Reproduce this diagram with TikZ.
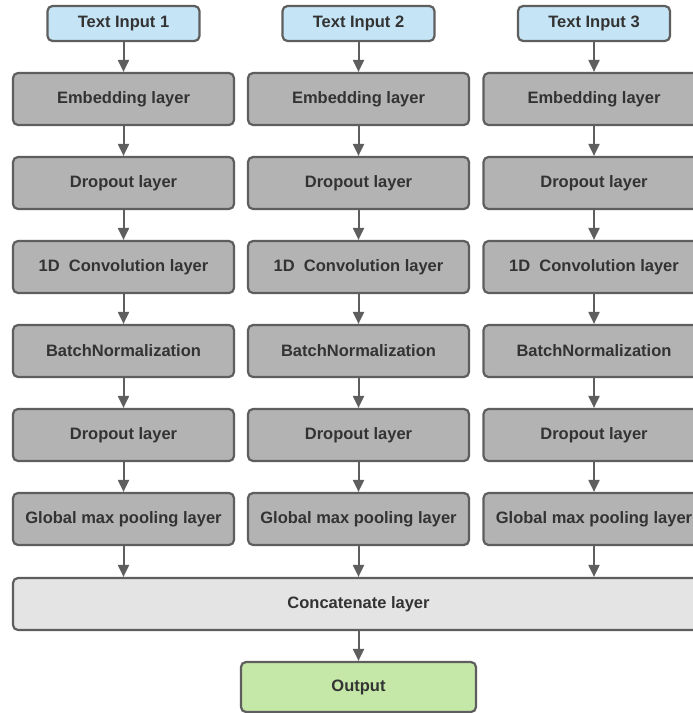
\documentclass[tikz,border=0pt]{standalone}
\usepackage{fontspec}
\setmainfont{Liberation Sans}
\usetikzlibrary{arrows.meta}
\definecolor{edgegray}{HTML}{5E5E5E}
\definecolor{txtgray}{HTML}{333333}
\definecolor{layergray}{HTML}{B3B3B3}
\definecolor{inblue}{HTML}{C5E4F5}
\definecolor{concatgray}{HTML}{E4E4E4}
\definecolor{outgreen}{HTML}{C5E8A8}
\tikzset{
  box/.style={draw=edgegray, line width=2.2pt, rounded corners=5pt, text=txtgray,
    font=\fontsize{16.5}{18}\selectfont\bfseries, inner sep=0pt, anchor=center},
  inbox/.style={box, fill=inblue, minimum width=152pt, minimum height=35pt},
  layerbox/.style={box, fill=layergray, minimum width=221pt, minimum height=52pt},
  concatbox/.style={box, fill=concatgray, minimum width=692pt, minimum height=52pt},
  outbox/.style={box, fill=outgreen, minimum width=235pt, minimum height=50pt},
  flow/.style={draw=edgegray, line width=2pt, -{Triangle[length=12pt,width=11pt]}}
}
\begin{document}
\begin{tikzpicture}[x=1pt,y=-1pt]
\useasboundingbox (0,0) rectangle (693,713);
\clip (0,0) rectangle (693,713);
\fill[white] (0,0) rectangle (693,713);
\foreach \c/\x in {1/123.5,2/358.5,3/594} {
  \node[inbox] (in\c) at (\x,23.5) {Text Input \c};
  \node[layerbox] (emb\c) at (\x,99) {Embedding layer};
  \node[layerbox] (dropa\c) at (\x,183) {Dropout layer};
  \node[layerbox] (conv\c) at (\x,267) {1D\ \ Convolution layer};
  \node[layerbox] (bn\c) at (\x,351) {BatchNormalization};
  \node[layerbox] (dropb\c) at (\x,435) {Dropout layer};
  \node[layerbox] (gmp\c) at (\x,519) {Global max pooling layer};
}
\node[concatbox] (cat) at (359,604) {\hspace*{-1pt}Concatenate layer};
\node[outbox] (out) at (358.5,687) {Output};
\foreach \c in {1,2,3} {
  \draw[flow] (in\c) -- (emb\c);
  \draw[flow] (emb\c) -- (dropa\c);
  \draw[flow] (dropa\c) -- (conv\c);
  \draw[flow] (conv\c) -- (bn\c);
  \draw[flow] (bn\c) -- (dropb\c);
  \draw[flow] (dropb\c) -- (gmp\c);
  \draw[flow] (gmp\c.south) -- (gmp\c.south |- cat.north);
}
\draw[flow] (cat.south -| out.north) -- (out.north);
\end{tikzpicture}
\end{document}
